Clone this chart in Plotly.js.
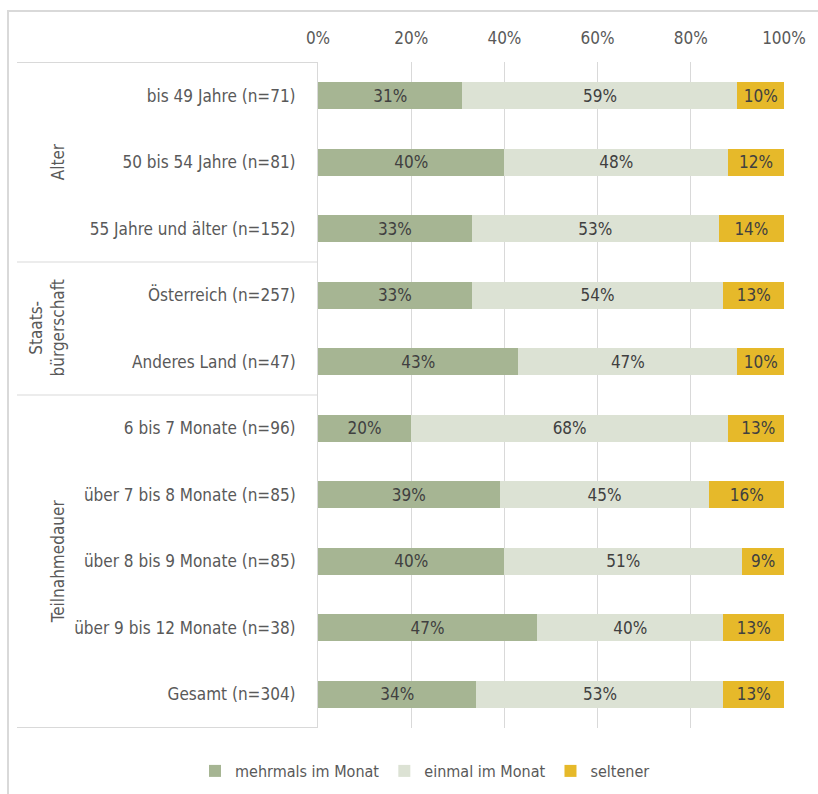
<!DOCTYPE html>
<html>
<head>
<meta charset="utf-8">
<script src="https://cdn.plot.ly/plotly-3.0.1.min.js"></script>
<style>
html,body{margin:0;padding:0;background:#fff;}
#frame{position:absolute;left:7px;top:10px;width:830px;height:800px;border-top:2px solid #d9d9d9;border-left:2px solid #d9d9d9;box-sizing:border-box;}
#chart{position:absolute;left:0;top:0;width:818px;height:794px;}
</style>
</head>
<body>
<div id="frame"></div>
<div id="chart"></div>
<script>
const categories = [
  "bis 49 Jahre (n=71)",
  "50 bis 54 Jahre (n=81)",
  "55 Jahre und älter (n=152)",
  "Österreich (n=257)",
  "Anderes Land (n=47)",
  "6 bis 7 Monate (n=96)",
  "über 7 bis 8 Monate (n=85)",
  "über 8 bis 9 Monate (n=85)",
  "über 9 bis 12 Monate (n=38)",
  "Gesamt (n=304)"
];
const mehrmals = [31, 40, 33, 33, 43, 20, 39, 40, 47, 34];
const einmal   = [59, 48, 53, 54, 47, 68, 45, 51, 40, 53];
const seltener = [10, 12, 14, 13, 10, 13, 16, 9, 13, 13];
const seriesNames = ["mehrmals im Monat", "einmal im Monat", "seltener"];
const groupLabels = ["Alter", "Staats-<br>bürgerschaft", "Teilnahmedauer"];
const groupCenters = [1, 3.5, 7];
const groupBounds = [-0.5, 2.5, 4.5, 9.5];
const xTicks = [0, 20, 40, 60, 80, 100];

const FONT = "'Liberation Sans Narrow', 'Arial Narrow', 'DejaVu Sans Condensed', sans-serif";
const colors = ["#A6B593", "#DCE2D4", "#E6B92A"];
const vals = [mehrmals, einmal, seltener];

const traces = vals.map((v, i) => ({
  type: "bar",
  orientation: "h",
  name: seriesNames[i],
  y: categories,
  x: v,
  marker: {color: colors[i]},
  text: v.map(d => d + "%"),
  textposition: "inside",
  insidetextanchor: "middle",
  textfont: {family: FONT, size: 17, color: "#404040"},
  constraintext: "none",
  hoverinfo: "skip"
}));

const L = 318, R = 34, T = 62, B = 66, W = 818, H = 794;
const pw = W - L - R;
const ph = H - T - B;
const px = p => (p - L) / pw;
const py = p => (H - B - p) / ph;

const shapes = groupBounds.map(b => ({
  type: "line", xref: "paper", yref: "y",
  x0: px(17), x1: 0, y0: b, y1: b,
  line: {color: "#d9d9d9", width: 1}
}));

const annotations = groupLabels.map((g, i) => ({
  xref: "paper", yref: "y",
  x: i === 1 ? px(46) : px(58), y: groupCenters[i],
  text: g, showarrow: false, textangle: -90,
  font: {family: FONT, size: 17, color: "#595959"},
  xanchor: "center", yanchor: "middle", align: "center"
}));

const layout = {
  width: W, height: H,
  margin: {l: L, r: R, t: T, b: B, autoexpand: false},
  paper_bgcolor: "rgba(0,0,0,0)",
  plot_bgcolor: "#fff",
  barmode: "stack",
  bargap: 0.595,
  showlegend: true,
  legend: {
    orientation: "h", xref: "paper", yref: "paper",
    x: px(425), xanchor: "center", y: py(771), yanchor: "middle",
    font: {family: FONT, size: 16, color: "#595959"},
    itemwidth: 30, traceorder: "normal"
  },
  xaxis: {
    side: "top", range: [0, 100], tickvals: xTicks, ticktext: xTicks.map(t => t + "%"),
    showgrid: true, gridcolor: "#d9d9d9", gridwidth: 1,
    zeroline: false, showline: false, ticks: "",
    ticklabelstandoff: 14, automargin: false,
    tickfont: {family: FONT, size: 17, color: "#595959"},
    fixedrange: true
  },
  yaxis: {
    type: "category", autorange: "reversed",
    showgrid: false, zeroline: false,
    showline: true, linecolor: "#d9d9d9", linewidth: 1,
    ticks: "", ticklabelstandoff: 18, automargin: false,
    tickfont: {family: FONT, size: 17, color: "#595959"},
    fixedrange: true
  },
  shapes: shapes,
  annotations: annotations,
  font: {family: FONT, color: "#595959"}
};

Plotly.newPlot("chart", traces, layout, {displayModeBar: false, staticPlot: true});
</script>
</body>
</html>
